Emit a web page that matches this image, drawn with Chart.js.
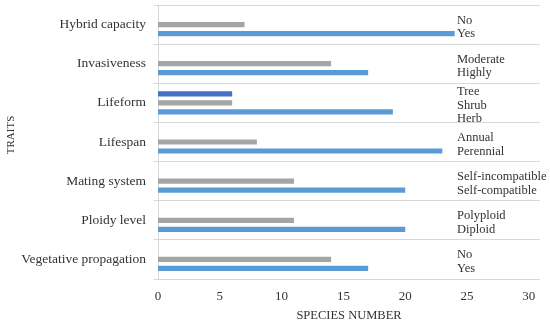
<!DOCTYPE html>
<html>
<head>
<meta charset="utf-8">
<script src="https://cdn.jsdelivr.net/npm/chart.js@4"></script>
<style>
html,body{margin:0;padding:0;background:#fff;}
#wrap{width:550px;height:325px;position:relative;}
</style>
</head>
<body>
<div id="wrap"><canvas id="c" width="550" height="325"></canvas></div>
<script>
const traits = ["Hybrid capacity","Invasiveness","Lifeform","Lifespan","Mating system","Ploidy level","Vegetative propagation"];
const subLabels = [["No","Yes"],["Moderate","Highly"],["Tree","Shrub","Herb"],["Annual","Perennial"],["Self-incompatible","Self-compatible"],["Polyploid","Diploid"],["No","Yes"]];
const thirdValues = [null,null,6,null,null,null,null];
const secondValues = [7,14,6,8,11,11,14];
const firstValues = [24,17,19,23,20,20,17];
const xTicks = [0,5,10,15,20,25,30];
const yTitle = 'TRAITS';
const xTitle = 'SPECIES NUMBER';

const FONT = "'Liberation Serif', 'DejaVu Serif', serif";
const TXT = '#333333';

const extraText = {
  id:'extraText',
  afterDraw(chart){
    const ctx = chart.ctx, y = chart.scales.y, a = chart.chartArea;
    ctx.save();
    ctx.font = '12.5px ' + FONT;
    ctx.fillStyle = TXT;
    ctx.textAlign = 'left';
    ctx.textBaseline = 'middle';
    const lh = 13.5;
    subLabels.forEach((lines,i)=>{
      const cy = y.getPixelForValue(i) + 2.5;
      const start = cy - (lines.length-1)*lh/2;
      lines.forEach((t,k)=>ctx.fillText(t, a.right - 83, start + k*lh));
    });
    // y axis title
    ctx.font = '11px ' + FONT;
    ctx.textAlign = 'center';
    ctx.translate(11, (a.top + a.bottom)/2 - 7);
    ctx.rotate(-Math.PI/2);
    ctx.fillText(yTitle, 0, 0);
    ctx.restore();
  }
};

new Chart(document.getElementById('c'), {
  type:'bar',
  data:{
    labels: traits,
    datasets:[
      {data: thirdValues, backgroundColor:'#4472C4'},
      {data: secondValues, backgroundColor:'#A5A5A5'},
      {data: firstValues, backgroundColor:'#5B9BD5'}
    ]
  },
  options:{
    indexAxis:'y',
    responsive:false,
    animation:false,
    layout:{padding:{top:5,right:10,left:0,bottom:0}},
    datasets:{bar:{categoryPercentage:0.69, barPercentage:0.58}},
    plugins:{legend:{display:false}, tooltip:{enabled:false}},
    scales:{
      x:{
        min:0, max:30.9,
        afterBuildTicks(s){ s.ticks = xTicks.map(v=>({value:v})); },
        afterFit(s){ s.height = 46; s.paddingLeft = 0; s.paddingRight = 0; },
        grid:{display:false, drawTicks:false},
        border:{display:false},
        ticks:{padding:10, color:TXT, font:{family:FONT, size:13}},
        title:{display:true, text:xTitle, color:TXT, font:{family:FONT, size:12.5}, padding:{top:0,bottom:2}}
      },
      y:{
        afterFit(s){ s.width = 158; s.paddingTop = 0; s.paddingBottom = 0; },
        grid:{offset:true, color:'#D9D9D9', drawTicks:true, tickLength:4},
        border:{display:true, color:'#D9D9D9'},
        ticks:{padding:8, color:TXT, font:{family:FONT, size:13.5}}
      }
    }
  },
  plugins:[extraText]
});
</script>
</body>
</html>
